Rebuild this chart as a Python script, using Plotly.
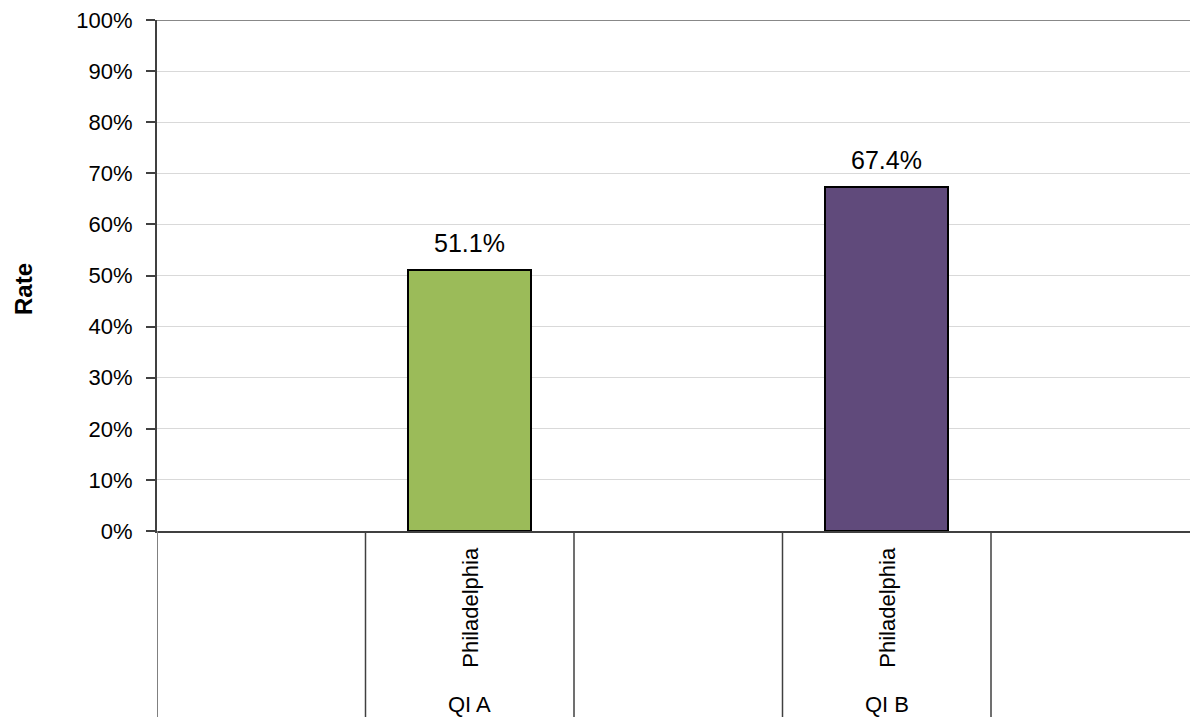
import plotly.graph_objects as go

categories = ["QI A", "QI B"]
series_names = ["Philadelphia", "Philadelphia"]
values = [0.511, 0.674]
value_labels = ["51.1%", "67.4%"]
colors = ["#9BBB59", "#604A7B"]
slot_positions = [1.5, 3.5]

W, H = 1190, 717
ml, mt, mb = 157, 20, 186
plot_h = H - mt - mb
slot_px = 208.5
x_max = (W - ml) / slot_px

fig = go.Figure()
fig.add_trace(go.Bar(
    x=slot_positions, y=values, width=123 / slot_px,
    marker=dict(color=colors, line=dict(color="#000000", width=2)),
    hoverinfo="skip", showlegend=False,
))

font = "Arial, Liberation Sans, sans-serif"
for xp, v, lab in zip(slot_positions, values, value_labels):
    fig.add_annotation(x=xp, y=v, text=lab, showarrow=False, yanchor="bottom",
                       yshift=11, font=dict(size=25, color="#000", family=font))

for xp, cat, s in zip(slot_positions, categories, series_names):
    fig.add_annotation(x=xp, y=(531 - 607) / plot_h, yref="paper", text=s, textangle=-90,
                       xanchor="center", yanchor="middle",
                       showarrow=False, font=dict(size=22, color="#000", family=font))
    fig.add_annotation(x=xp, y=(531 - 704) / plot_h, yref="paper", text=cat,
                       xanchor="center", yanchor="middle",
                       showarrow=False, font=dict(size=22, color="#000", family=font))

for i in range(5):
    fig.add_shape(type="line", xref="x", yref="paper", x0=i, x1=i, y0=0, y1=-mb / plot_h,
                  line=dict(color="#404040" if i else "#808080", width=1.5 if i else 2))

fig.add_shape(type="line", xref="paper", yref="y", x0=0, x1=1, y0=1, y1=1,
              line=dict(color="#888888", width=2))

fig.add_annotation(x=(23 - ml) / (W - ml), xref="paper", y=(531 - 289) / plot_h, yref="paper",
                   text="<b>Rate</b>", textangle=-90, xanchor="center", yanchor="middle",
                   showarrow=False, font=dict(size=24, color="#000", family=font))

fig.update_layout(
    width=W, height=H,
    margin=dict(l=ml, r=0, t=mt, b=mb),
    paper_bgcolor="white", plot_bgcolor="white",
    xaxis=dict(range=[0, x_max], showticklabels=False, showgrid=False, zeroline=False,
               showline=True, linecolor="#404040", linewidth=2, ticks=""),
    yaxis=dict(range=[0, 1], dtick=0.1, tickformat=".0%", showgrid=True, gridcolor="#d9d9d9",
               gridwidth=1, zeroline=False, showline=True, linecolor="#404040", linewidth=2,
               ticks="outside", ticklen=9, tickcolor="#404040", tickwidth=1.5,
               ticklabelstandoff=9,
               tickfont=dict(size=22, color="#000", family=font)),
    bargap=0,
)

fig.write_html("out.html")
